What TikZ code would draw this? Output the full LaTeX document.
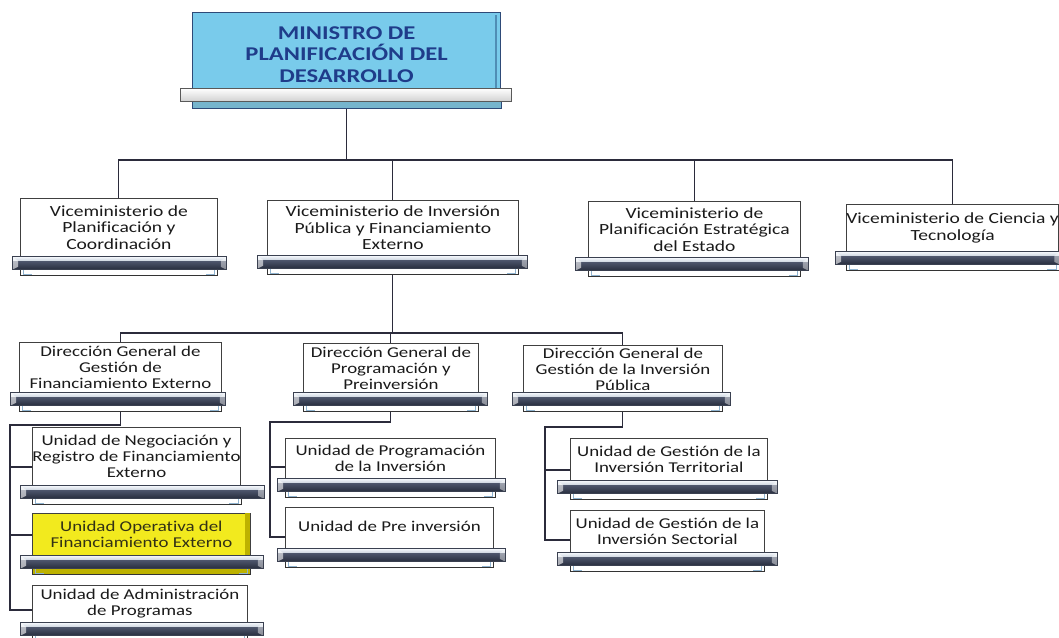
\documentclass[tikz,border=0pt]{standalone}
\usepackage{fontspec}
\setmainfont{Carlito}[FakeStretch=1.26, Ligatures=CommonOff]
\usetikzlibrary{calc}
\definecolor{txt}{HTML}{1A1A1A}
\definecolor{navytxt}{HTML}{1F3C8A}
\definecolor{topblue}{HTML}{79CBEB}
\definecolor{topedge}{HTML}{2E4A78}
\definecolor{topbev}{HTML}{4F8DB5}
\definecolor{yel}{HTML}{F2EA1E}
\definecolor{yeldk}{HTML}{BDB200}
\definecolor{boxedge}{HTML}{404040}
\definecolor{conn}{HTML}{2B2B3B}
\definecolor{shelfhi}{HTML}{F4F7FB}
\definecolor{shelfmid}{HTML}{C3CCD9}
\definecolor{shelfdk}{HTML}{4A5268}
\definecolor{shelfdkb}{HTML}{262C3C}
\definecolor{shelfedge}{HTML}{3A4050}
\definecolor{lipedge}{HTML}{333333}
\definecolor{bracketc}{HTML}{8FB3CF}
\newcommand{\shelfbar}[4]{%
  \path[draw=lipedge, line width=0.7pt, fill=#4] ([yshift=-12pt]#1.south west) rectangle ([yshift=-19pt]#1.south east);
  \draw[bracketc, line width=0.7pt] ([xshift=3pt,yshift=-12pt]#1.south west) |- ([xshift=12pt,yshift=-18pt]#1.south west);
  \draw[bracketc, line width=0.7pt] ([xshift=-3pt,yshift=-12pt]#1.south east) |- ([xshift=-12pt,yshift=-18pt]#1.south east);
  \shade[top color=shelfhi, bottom color=shelfmid] ([xshift=-#2pt]#1.south west) rectangle ([xshift=#3pt,yshift=-5pt]#1.south east);
  \shade[top color=shelfdk, bottom color=shelfdkb] ([xshift=-#2pt,yshift=-5pt]#1.south west) rectangle ([xshift=#3pt,yshift=-13pt]#1.south east);
  \fill[white, opacity=0.6] ([xshift=-#2pt]#1.south west) -- ([xshift=-#2pt,xshift=6pt,yshift=-4pt]#1.south west) -- ([xshift=-#2pt,xshift=6pt,yshift=-10pt]#1.south west) -- ([xshift=-#2pt,yshift=-13pt]#1.south west) -- cycle;
  \fill[white, opacity=0.45] ([xshift=#3pt]#1.south east) -- ([xshift=#3pt,xshift=-6pt,yshift=-4pt]#1.south east) -- ([xshift=#3pt,xshift=-6pt,yshift=-10pt]#1.south east) -- ([xshift=#3pt,yshift=-13pt]#1.south east) -- cycle;
  \draw[shelfedge, line width=0.7pt] ([xshift=-#2pt]#1.south west) rectangle ([xshift=#3pt,yshift=-13pt]#1.south east);
}
\begin{document}
\begin{tikzpicture}[x=1pt,y=-1pt,
  box/.style={draw=boxedge, line width=0.8pt, fill=white, inner sep=0pt, align=center,
    anchor=north west, font=\fontsize{15}{16}\selectfont, text=txt},
  vbox/.style={box, font=\fontsize{15.5}{16.3}\selectfont},
  topbox/.style={draw=topedge, line width=1.2pt, fill=topblue, inner sep=0pt, align=center,
    anchor=north west, font=\fontsize{19.5}{21.7}\selectfont\bfseries, text=navytxt},
  yelbox/.style={box, fill=yel, text=txt!85!yeldk},
  link/.style={draw=conn, line width=1.1pt}]
\useasboundingbox[fill=white] (0,0) rectangle (1059,637);

% ---------- boxes ----------
\node[topbox, minimum width=308pt, minimum height=84pt] (top) at (192,12) {MINISTRO DE\\PLANIFICACIÓN DEL\\DESARROLLO};

\node[vbox, minimum width=197pt, minimum height=58pt] (v1) at (20,198) {Viceministerio de\\Planificación y\\Coordinación};
\node[vbox, minimum width=251pt, minimum height=55pt] (v2) at (267,200) {Viceministerio de Inversión\\Pública y Financiamiento\\Externo};
\node[vbox, minimum width=212pt, minimum height=56pt] (v3) at (588,201) {Viceministerio de\\Planificación Estratégica\\del Estado};
\node[vbox, minimum width=212pt, minimum height=47pt] (v4) at (846,204) {Viceministerio de Ciencia y\\Tecnología};

\node[box, minimum width=202pt, minimum height=50pt] (dg1) at (19,342) {Dirección General de\\Gestión de\\Financiamiento Externo};
\node[box, minimum width=175pt, minimum height=49pt] (dg2) at (303,343) {Dirección General de\\Programación y\\Preinversión};
\node[box, minimum width=199pt, minimum height=47pt] (dg3) at (523,345) {Dirección General de\\Gestión de la Inversión\\Pública};

\node[box, minimum width=208pt, minimum height=58pt] (u1) at (32,427) {Unidad de Negociación y\\Registro de Financiamiento\\Externo};
\node[yelbox, minimum width=218pt, minimum height=42pt] (u2) at (32,513) {Unidad Operativa del\\Financiamiento Externo};
\node[box, minimum width=215pt, minimum height=37pt] (u3) at (32,585) {Unidad de Administración\\de Programas};

\node[box, minimum width=210pt, minimum height=40pt] (p1) at (285,438) {Unidad de Programación\\de la Inversión};
\node[box, minimum width=208pt, minimum height=41pt] (p2) at (285,507) {\raisebox{4pt}{Unidad de Pre inversión}};

\node[box, minimum width=197pt, minimum height=42pt] (g1) at (570,438) {Unidad de Gestión de la\\Inversión Territorial};
\node[box, minimum width=194pt, minimum height=42pt] (g2) at (570,510) {Unidad de Gestión de la\\Inversión Sectorial};

% bevels
\draw[topbev, line width=1.5pt] ([xshift=-5pt,yshift=-3pt]top.north east) -- ([xshift=-5pt,yshift=9pt]top.south east);
\fill[yeldk] ([xshift=-6pt,yshift=-0.4pt]u2.north east) rectangle ([xshift=-0.4pt]u2.south east);

% ---------- connectors ----------
\coordinate (bus1) at (0,160);
\coordinate (bus2) at (0,333);
\draw[link] (top.south) -- (top.south |- bus1);
\draw[link] (v1.north) |- (v4.north |- bus1) -- (v4.north);
\draw[link] (v2.north) -- (v2.north |- bus1);
\draw[link] (v3.north) -- (v3.north |- bus1);

\draw[link] (v2.south) -- (v2.south |- bus2);
\draw[link] (dg1.north) |- (dg3.north |- bus2) -- (dg3.north);
\draw[link] (dg2.north) -- (dg2.north |- bus2);

\coordinate (t1) at (10,425);
\draw[link] (dg1.south) |- (t1) |- (u3.west |- 0,610);
\draw[link] (t1 |- 0,467) -- (u1.west |- 0,467);
\draw[link] (t1 |- 0,535) -- (u2.west |- 0,535);

\coordinate (t2) at (270,422);
\draw[link] (dg2.south) |- (t2) |- (p2.west |- 0,537);
\draw[link] (t2 |- 0,467) -- (p1.west |- 0,467);

\coordinate (t3) at (545,427);
\draw[link] (dg3.south) |- (t3) |- (g2.west |- 0,540);
\draw[link] (t3 |- 0,470) -- (g1.west |- 0,470);

% ---------- shelves ----------
\path[draw=topedge, line width=0.8pt, fill=topblue!85!black!90] ([yshift=-4pt]top.south west) rectangle ([yshift=-11pt]top.south east);
\shade[top color=white, bottom color=gray!35] ([xshift=-12pt,yshift=9pt]top.south west) rectangle ([xshift=10pt,yshift=-4pt]top.south east);
\draw[gray!70!black, line width=0.8pt] ([xshift=-12pt,yshift=9pt]top.south west) rectangle ([xshift=10pt,yshift=-4pt]top.south east);

\shelfbar{v1}{8}{9}{white}
\shelfbar{v2}{10}{9}{white}
\shelfbar{v3}{13}{8}{white}
\shelfbar{v4}{11}{1}{white}
\shelfbar{dg1}{9}{4}{white}
\shelfbar{dg2}{10}{9}{white}
\shelfbar{dg3}{11}{8}{white}
\shelfbar{u1}{12}{23}{white}
\shelfbar{u2}{12}{13}{yeldk}
\shelfbar{u3}{12}{16}{white}
\shelfbar{p1}{8}{10}{white}
\shelfbar{p2}{8}{12}{white}
\shelfbar{g1}{13}{10}{white}
\shelfbar{g2}{13}{13}{white}
\end{tikzpicture}
\end{document}
